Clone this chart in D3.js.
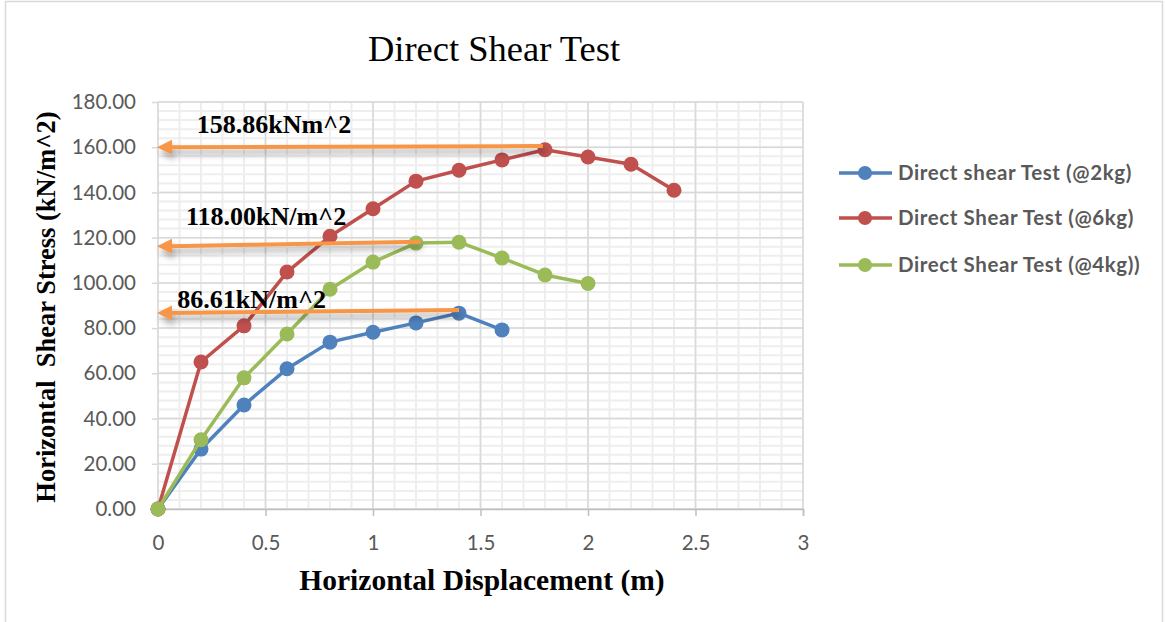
<!DOCTYPE html>
<html>
<head>
<meta charset="utf-8">
<script src="https://cdn.jsdelivr.net/npm/d3@7"></script>
<style>
  html, body { margin: 0; padding: 0; background: #fff; }
  svg { display: block; }
</style>
</head>
<body>
<svg id="chart" width="1165" height="622"></svg>
<script>
// Horizontal displacement (m) for each reading
const disp2kg = [0, 0.2, 0.4, 0.6, 0.8, 1.0, 1.2, 1.4, 1.6];
const stress2kg = [0, 26.5, 46.0, 62.0, 73.8, 78.2, 82.3, 86.61, 79.2];

const disp6kg = [0, 0.2, 0.4, 0.6, 0.8, 1.0, 1.2, 1.4, 1.6, 1.8, 2.0, 2.2, 2.4];
const stress6kg = [0, 65.0, 81.0, 104.8, 120.6, 132.8, 145.0, 149.8, 154.4, 158.86, 155.7, 152.5, 141.0];

const disp4kg = [0, 0.2, 0.4, 0.6, 0.8, 1.0, 1.2, 1.4, 1.6, 1.8, 2.0];
const stress4kg = [0, 30.6, 58.0, 77.4, 97.2, 109.2, 117.6, 118.00, 111.0, 103.5, 99.7];

const seriesNames = ["Direct shear Test (@2kg)", "Direct Shear Test (@6kg)", "Direct Shear Test (@4kg))"];
const seriesColors = ["#4F81BD", "#C0504D", "#9BBB59"];

const xTicks = [0, 0.5, 1, 1.5, 2, 2.5, 3];
const yTicks = [0, 20, 40, 60, 80, 100, 120, 140, 160, 180];

// Peak call-outs: label text, arrow start (right end) and arrow tip (left end)
const calloutLabels = ["158.86kNm^2", "118.00kN/m^2", "86.61kN/m^2"];
const calloutFromX = [1.79, 1.22, 1.40];
const calloutFromY = [160.5, 118.2, 88.0];
const calloutToY = [160.0, 116.2, 86.7];
const calloutLabelX = [0.18, 0.13, 0.09];
const calloutLabelY = [166.3, 125.5, 89.0];

const svg = d3.select("#chart");

// outer frame
svg.append("rect").attr("x", 5.5).attr("y", 1.5).attr("width", 1157).attr("height", 640)
  .attr("fill", "#fff").attr("stroke", "#D9D9D9").attr("stroke-width", 1.5);

const x = d3.scaleLinear().domain([0, 3]).range([158, 803]);
const y = d3.scaleLinear().domain([0, 180]).range([509, 102]);

const defs = svg.append("defs");
const shadow = defs.append("filter").attr("id", "arrowShadow")
  .attr("x", "-5%").attr("y", "-200%").attr("width", "110%").attr("height", "500%");
shadow.append("feDropShadow").attr("dx", 2).attr("dy", 5).attr("stdDeviation", 3)
  .attr("flood-color", "#000").attr("flood-opacity", 0.35);

// minor gridlines
const g = svg.append("g");
g.selectAll(".vminor").data(d3.range(0, 3.0001, 0.1)).join("line")
  .attr("x1", d => x(d)).attr("x2", d => x(d)).attr("y1", y(0)).attr("y2", y(180))
  .attr("stroke", "#EEEEEE").attr("stroke-width", 2);
g.selectAll(".hminor").data(d3.range(0, 180.001, 4)).join("line")
  .attr("x1", x(0)).attr("x2", x(3)).attr("y1", d => y(d)).attr("y2", d => y(d))
  .attr("stroke", "#EEEEEE").attr("stroke-width", 2);
// major gridlines
g.selectAll(".vmajor").data(xTicks).join("line")
  .attr("x1", d => x(d)).attr("x2", d => x(d)).attr("y1", y(0)).attr("y2", y(180))
  .attr("stroke", "#D9D9D9").attr("stroke-width", 1.5);
g.selectAll(".hmajor").data(yTicks).join("line")
  .attr("x1", x(0)).attr("x2", x(3)).attr("y1", d => y(d)).attr("y2", d => y(d))
  .attr("stroke", "#D9D9D9").attr("stroke-width", 1.5);

// axes
const xAxis = d3.axisBottom(x).tickValues(xTicks).tickFormat(d3.format("")).tickSize(7).tickPadding(19);
const gx = svg.append("g").attr("transform", `translate(0,${y(0)})`).call(xAxis);
gx.select(".domain").attr("stroke", "#BFBFBF").attr("stroke-width", 1.5);
gx.selectAll(".tick line").attr("stroke", "#BFBFBF").attr("stroke-width", 1.5);
gx.selectAll("text").attr("font-family", "Lato, 'Open Sans', sans-serif").attr("font-size", 20.5)
  .attr("fill", "#595959");

const yAxis = d3.axisLeft(y).tickValues(yTicks).tickFormat(d3.format(".2f")).tickSize(6).tickPadding(16);
const gy = svg.append("g").attr("transform", `translate(${x(0)},0)`).call(yAxis);
gy.select(".domain").remove();
gy.selectAll(".tick line").attr("stroke", "#D9D9D9").attr("stroke-width", 1.5);
gy.selectAll("text").attr("font-family", "Lato, 'Open Sans', sans-serif").attr("font-size", 20.5)
  .attr("fill", "#595959");

// series
const series = [
  { xs: disp2kg, ys: stress2kg },
  { xs: disp6kg, ys: stress6kg },
  { xs: disp4kg, ys: stress4kg }
];
const line = d3.line().x(d => x(d[0])).y(d => y(d[1]));
series.forEach((s, i) => {
  const pts = s.xs.map((v, j) => [v, s.ys[j]]);
  const sg = svg.append("g");
  sg.append("path").datum(pts).attr("d", line).attr("fill", "none")
    .attr("stroke", seriesColors[i]).attr("stroke-width", 3.5).attr("stroke-linejoin", "round");
  sg.selectAll("circle").data(pts).join("circle")
    .attr("cx", d => x(d[0])).attr("cy", d => y(d[1])).attr("r", 7.5)
    .attr("fill", seriesColors[i]);
});

// peak call-out arrows
const ag = svg.append("g");
calloutLabels.forEach((lab, i) => {
  const x1 = x(calloutFromX[i]), y1 = y(calloutFromY[i]);
  const tipX = x(0) - 1, tipY = y(calloutToY[i]);
  const headLen = 15, headHalf = 7.5;
  const arr = ag.append("g").attr("filter", "url(#arrowShadow)");
  arr.append("line").attr("x1", x1).attr("y1", y1).attr("x2", tipX + headLen - 2).attr("y2", tipY)
    .attr("stroke", "#F79646").attr("stroke-width", 4);
  arr.append("path")
    .attr("d", `M${tipX},${tipY} L${tipX + headLen},${tipY - headHalf} L${tipX + headLen},${tipY + headHalf} Z`)
    .attr("fill", "#F79646");
  ag.append("text").attr("x", x(calloutLabelX[i])).attr("y", y(calloutLabelY[i]))
    .attr("font-family", "'Liberation Serif', 'Times New Roman', serif").attr("font-weight", "bold")
    .attr("font-size", 26).attr("fill", "#000").text(lab);
});

// title
svg.append("text").attr("x", 494).attr("y", 61).attr("text-anchor", "middle")
  .attr("font-family", "'Liberation Serif', 'Times New Roman', serif").attr("font-size", 36.5)
  .attr("fill", "#000").text("Direct Shear Test");

// axis titles
svg.append("text").attr("x", 482).attr("y", 590).attr("text-anchor", "middle")
  .attr("font-family", "'Liberation Serif', 'Times New Roman', serif").attr("font-weight", "bold")
  .attr("font-size", 29.5).attr("fill", "#000").text("Horizontal Displacement (m)");

svg.append("text").attr("transform", "translate(55,307) rotate(-90)").attr("text-anchor", "middle")
  .attr("font-family", "'Liberation Serif', 'Times New Roman', serif").attr("font-weight", "bold")
  .attr("font-size", 26.5).attr("fill", "#000").attr("xml:space", "preserve")
  .text("Horizontal  Shear Stress (kN/m^2)");

// legend
const legendY = [173, 218, 265];
const lg = svg.append("g");
seriesNames.forEach((name, i) => {
  const row = lg.append("g").attr("transform", `translate(0,${legendY[i]})`);
  row.append("line").attr("x1", 839).attr("x2", 892).attr("y1", 0).attr("y2", 0)
    .attr("stroke", seriesColors[i]).attr("stroke-width", 3.5);
  row.append("circle").attr("cx", 865).attr("cy", 0).attr("r", 7).attr("fill", seriesColors[i]);
  row.append("text").attr("x", 898).attr("y", 0).attr("dy", "0.35em")
    .attr("font-family", "Lato, 'Open Sans', sans-serif").attr("font-weight", "bold")
    .attr("font-size", 20.5).attr("letter-spacing", 0.6).attr("fill", "#595959").text(name);
});
</script>
</body>
</html>
